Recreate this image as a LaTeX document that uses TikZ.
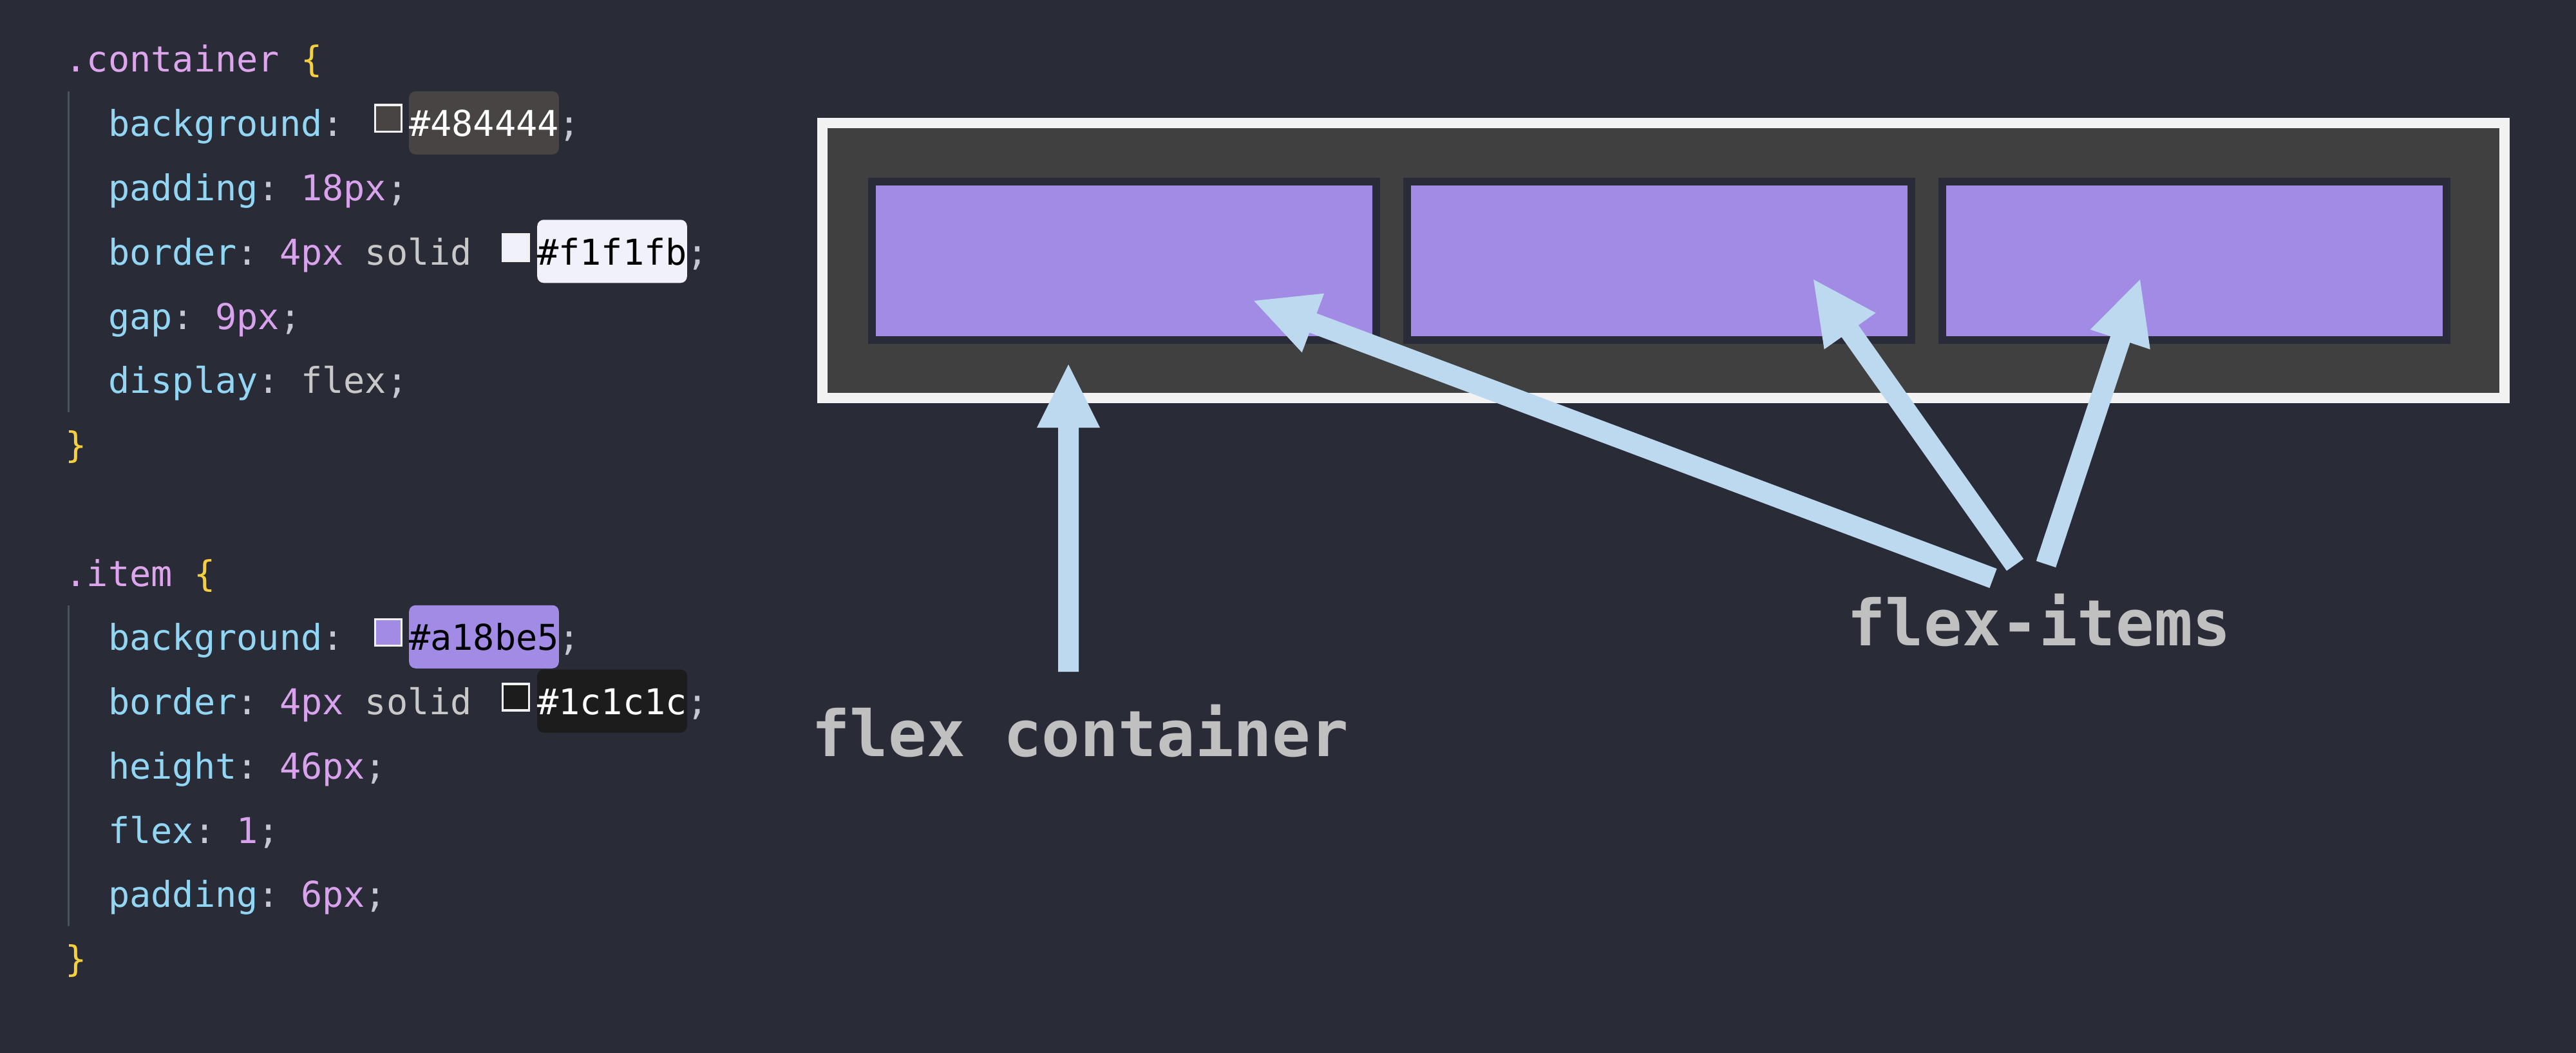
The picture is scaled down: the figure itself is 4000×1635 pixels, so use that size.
\documentclass[tikz,border=0pt]{standalone}
\usepackage{fontspec}
\usetikzlibrary{calc}
\newfontfamily\codefont{DejaVu Sans Mono}
\definecolor{bg}{HTML}{292B37}
\definecolor{cfill}{HTML}{404040}
\definecolor{cborder}{HTML}{F2F2F2}
\definecolor{ifill}{HTML}{A18BE5}
\definecolor{iborder}{HTML}{2A2B38}
\definecolor{arrowc}{HTML}{BDD9F0}
\definecolor{labelc}{HTML}{C0C0C0}
\definecolor{sel}{HTML}{DDA6EC}
\definecolor{prop}{HTML}{92D6F4}
\definecolor{num}{HTML}{D9A2EC}
\definecolor{val}{HTML}{C8C8C8}
\definecolor{punc}{HTML}{C4C8D0}
\definecolor{brace}{HTML}{F5CF3E}
\definecolor{guide}{HTML}{465361}
\definecolor{hexA}{HTML}{484444}
\definecolor{hexB}{HTML}{F1F1FB}
\definecolor{hexC}{HTML}{A18BE5}
\definecolor{hexD}{HTML}{1C1C1C}
\definecolor{swedge}{HTML}{F0F0F0}

\newcommand\csp{\kern33.23pt\relax}

\newcommand\fatarrow[2]{%
  \fill[arrowc] let \p1=($(#2)-(#1)$), \n1={atan2(\y1,\x1)}, \n2={veclen(\x1,\y1)} in
    [shift={(#1)}, rotate=\n1]
    (0,16) -- ({\n2-98},16) -- ({\n2-98},49) -- (\n2,0) -- ({\n2-98},-49) -- ({\n2-98},-16) -- (0,-16) -- cycle;
}

\begin{document}
\begin{tikzpicture}[x=1pt,y=-1pt,
  code/.style={anchor=base west, inner sep=0pt, font=\codefont\fontsize{55.2pt}{60pt}\selectfont},
  hexbox/.style={code, rounded corners=10pt, text height=70pt, text depth=28pt},
  swatch/.style={draw=swedge, line width=3.5pt, minimum size=41pt, inner sep=0pt},
  lbl/.style={anchor=base west, inner sep=0pt, text=labelc, font=\codefont\bfseries\fontsize{99pt}{110pt}\selectfont},
  guideline/.style={draw=guide, line width=3pt},
  itembox/.style={draw=iborder, line width=12pt, fill=ifill, minimum width=782.5pt, minimum height=246pt, inner sep=0pt},
]
\useasboundingbox (0,0) rectangle (4000,1635);
\fill[bg] (0,0) rectangle (4000,1635);

% ---------- code: .container ----------
\node[code] (sel1) at (101.5,112) {\color{sel}.container\csp\color{brace}\{};
\draw[guideline] (106,142) -- (106,640);
\node[code] (l1) at (168,211.75) {\color{prop}background\color{punc}:};
\node[swatch, fill=hexA] (sw1) at (603,183.75) {};
\node[hexbox, fill=hexA, text=white] (hx1) at (635,211.75) {\#484444};
\node[code, text=punc] (sc1) at (867,211.75) {;};
\node[code] (l2) at (168,311.5) {\color{prop}padding\color{punc}:\csp\color{num}18px\color{punc};};
\node[code] (l3) at (168,411.25) {\color{prop}border\color{punc}:\csp\color{num}4px\csp\color{val}solid};
\node[swatch, fill=hexB] (sw3) at (801,384.25) {};
\node[hexbox, fill=hexB, text=black] (hx3) at (834,411.25) {\#f1f1fb};
\node[code, text=punc] (sc3) at (1066,411.25) {;};
\node[code] (l4) at (168,511) {\color{prop}gap\color{punc}:\csp\color{num}9px\color{punc};};
\node[code] (l5) at (168,610.75) {\color{prop}display\color{punc}:\csp\color{val}flex\color{punc};};
\node[code, text=brace] (cl1) at (101.5,710.5) {\}};

% ---------- code: .item ----------
\node[code] (sel2) at (101.5,910) {\color{sel}.item\csp\color{brace}\{};
\draw[guideline] (106,940) -- (106,1438);
\node[code] (m1) at (168,1009.75) {\color{prop}background\color{punc}:};
\node[swatch, fill=hexC] (sw9) at (603,981.75) {};
\node[hexbox, fill=hexC, text=black] (hx9) at (635,1009.75) {\#a18be5};
\node[code, text=punc] (sc9) at (867,1009.75) {;};
\node[code] (m2) at (168,1109.5) {\color{prop}border\color{punc}:\csp\color{num}4px\csp\color{val}solid};
\node[swatch, fill=hexD] (sw10) at (801,1082.5) {};
\node[hexbox, fill=hexD, text=white] (hx10) at (834,1109.5) {\#1c1c1c};
\node[code, text=punc] (sc10) at (1066,1109.5) {;};
\node[code] (m3) at (168,1209.25) {\color{prop}height\color{punc}:\csp\color{num}46px\color{punc};};
\node[code] (m4) at (168,1309) {\color{prop}flex\color{punc}:\csp\color{num}1\color{punc};};
\node[code] (m5) at (168,1408.75) {\color{prop}padding\color{punc}:\csp\color{num}6px\color{punc};};
\node[code, text=brace] (cl2) at (101.5,1508.5) {\}};

% ---------- flex container drawing ----------
\node[draw=cborder, line width=16pt, fill=cfill, minimum width=2612pt, minimum height=427pt, inner sep=0pt] (cont) at (2583,404.5) {};
\node[itembox] (it1) at (1745.25,405) {};
\node[itembox] (it2) at (2576.25,405) {};
\node[itembox] (it3) at (3407.25,405) {};

% ---------- arrows ----------
\coordinate (fcT) at (1659,1043);
\coordinate (fcH) at (1659,566);
\coordinate (i1T) at (3095,898);
\coordinate (i1H) at (1947,467);
\coordinate (i2T) at (3129,877);
\coordinate (i2H) at (2816,434);
\coordinate (i3T) at (3177,876);
\coordinate (i3H) at (3323,434);
\fatarrow{fcT}{fcH}
\fatarrow{i1T}{i1H}
\fatarrow{i2T}{i2H}
\fatarrow{i3T}{i3H}

% ---------- labels ----------
\node[lbl] (lblc) at (1260,1174) {flex container};
\node[lbl] (lbli) at (2868,1002) {flex-items};
\end{tikzpicture}
\end{document}
